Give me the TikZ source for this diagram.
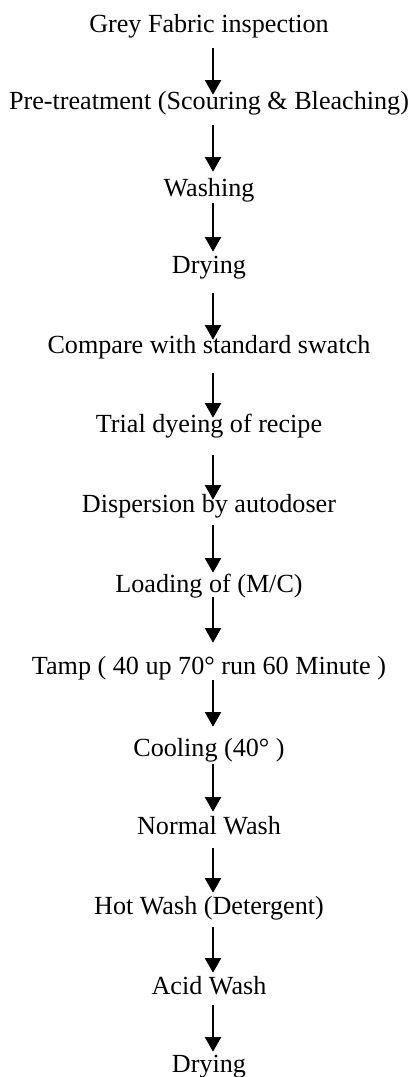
\documentclass[tikz,border=0pt]{standalone}
\usepackage{fontspec}
\setmainfont{Liberation Serif}
\usetikzlibrary{arrows.meta}
\newcommand{\stagesize}{19.6pt}
\newcommand{\arrowdx}{3pt}
\tikzstyle{stage}=[fill=none,text=black,draw=none,anchor=base,inner sep=0pt,
                   text height=9pt,text depth=3.75pt,
                   font=\fontsize{\stagesize}{23pt}\selectfont]
\tikzstyle{flow}=[-{Triangle[width=12pt,length=11pt]},line width=1.6pt]

\begin{document}
\begin{tikzpicture}[x=0.75pt,y=-0.75pt]
\useasboundingbox (0,0) rectangle (410,1077);

\node [stage] (s1)  at (209,33)   {Grey Fabric inspection};
\node [stage] (s2)  at (209,110)  {Pre-treatment (Scouring \& Bleaching)};
\node [stage] (s3)  at (209,196)  {Washing};
\node [stage] (s4)  at (209,273)  {Drying};
\node [stage] (s5)  at (209,353)  {Compare with standard swatch};
\node [stage] (s6)  at (209,432)  {Trial dyeing of recipe};
\node [stage] (s7)  at (209,512)  {Dispersion by autodoser};
\node [stage] (s8)  at (209,592)  {Loading of (M/C)};
\node [stage] (s9)  at (209,674)  {Tamp ( 40 up 70° run 60 Minute )};
\node [stage] (s10) at (209,756)  {Cooling (40° )};
\node [stage] (s11) at (209,834)  {Normal Wash};
\node [stage] (s12) at (209,914)  {Hot Wash (Detergent)};
\node [stage] (s13) at (209,994)  {Acid Wash};
\node [stage] (s14) at (209,1072) {Drying};

\foreach \a/\b/\s/\e in {1/2/10/3, 2/3/10/12, 3/4/2/9, 4/5/15/1, 5/6/15/2,
                         6/7/18/0, 7/8/8/7, 8/9/0/19, 9/10/1/17, 10/11/3/10,
                         11/12/9/9, 12/13/8/9, 13/14/6/8}
  \draw [flow, shorten <=\s*0.75pt, shorten >=\e*0.75pt]
        ([xshift=\arrowdx]s\a.south) -- ([xshift=\arrowdx]s\b.north);
\end{tikzpicture}
\end{document}
